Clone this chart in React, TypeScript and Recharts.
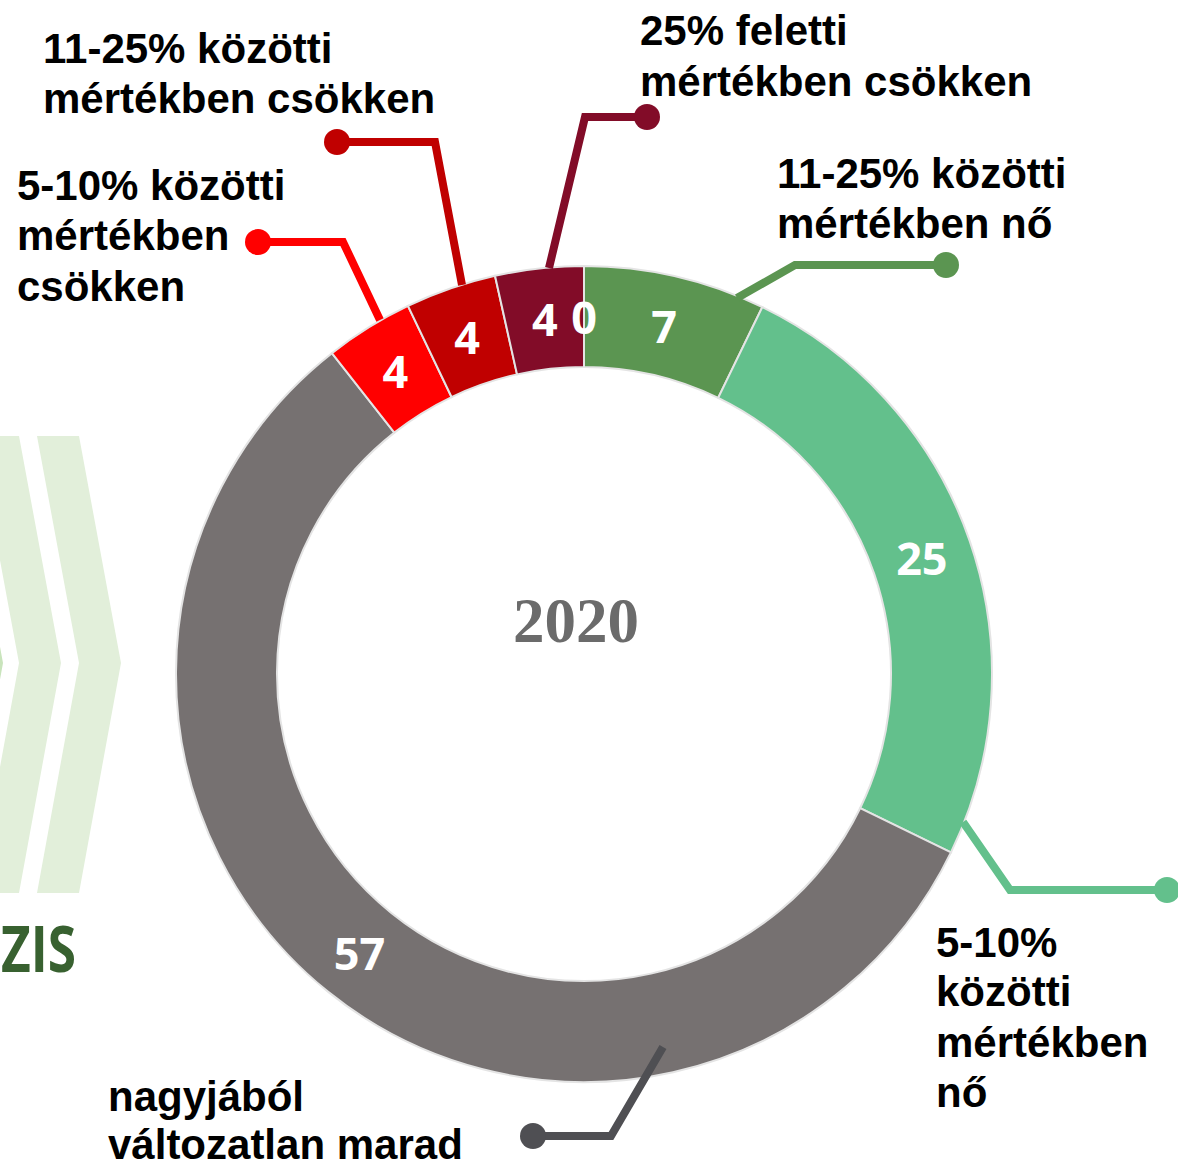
import React from "react";
import { PieChart, Pie, Cell } from "recharts";

// kategóriák az óramutató járásával, 12 órától
const CATEGORIES = [
  "25% feletti mértékben nő",
  "11-25% közötti mértékben nő",
  "5-10% közötti mértékben nő",
  "nagyjából változatlan marad",
  "5-10% közötti mértékben csökken",
  "11-25% közötti mértékben csökken",
  "25% feletti mértékben csökken",
];
const VALUES = [0, 7.2, 25.0, 57.2, 3.5, 3.6, 3.5];
const COLORS = ["#5B9551", "#5B9551", "#63C08C", "#767171", "#FF0000", "#C00000", "#820C28"];
const LINE_COLORS = ["#5B9551", "#5B9551", "#63C08C", "#4F4F53", "#FF0000", "#C00000", "#820C28"];
const LABEL_LINES: (string[] | null)[] = [
  null,
  ["11-25% közötti", "mértékben nő"],
  ["5-10%", "közötti", "mértékben", "nő"],
  ["nagyjából", "változatlan marad"],
  ["5-10% közötti", "mértékben", "csökken"],
  ["11-25% közötti", "mértékben csökken"],
  ["25% feletti", "mértékben csökken"],
];
const CENTER_TITLE = "2020";

const data = CATEGORIES.map((name, i) => ({ name, value: VALUES[i] }));

// vezetővonalak: pontok a középponthoz képest (start, könyök, pötty), szöveg x + alapvonalak
type Callout = { pts: [number, number][]; tx: number; ty: number[] };
const CALLOUTS: (Callout | null)[] = [
  null,
  { pts: [[153, -376], [211, -409], [362, -409]], tx: 193, ty: [-486, -436] },
  { pts: [[379, 148], [426, 216], [583, 216]], tx: 352, ty: [283, 332, 383, 433] },
  { pts: [[79, 373], [27, 462], [-51, 462]], tx: -476, ty: [437, 485] },
  { pts: [[-204, -354], [-241, -432], [-326, -432]], tx: -567, ty: [-474, -424, -373] },
  { pts: [[-122, -389], [-149, -532], [-247, -532]], tx: -541, ty: [-611, -561] },
  { pts: [[-35, -406], [1, -557], [63, -557]], tx: 56, ty: [-629, -578] },
];

const RAD = Math.PI / 180;

function renderLabel(props: any) {
  const { cx, cy, midAngle, innerRadius, outerRadius, index, value } = props;
  const r = (innerRadius + outerRadius) / 2;
  const x = cx + r * Math.cos(-midAngle * RAD);
  const y = cy + r * Math.sin(-midAngle * RAD);
  const c = CALLOUTS[index];
  const lines = LABEL_LINES[index];
  return (
    <g key={`lbl-${index}`}>
      {c && (
        <>
          <polyline
            points={c.pts.map(([dx, dy]) => `${cx + dx},${cy + dy}`).join(" ")}
            fill="none"
            stroke={LINE_COLORS[index]}
            strokeWidth={8}
          />
          <circle cx={cx + c.pts[2][0]} cy={cy + c.pts[2][1]} r={13} fill={LINE_COLORS[index]} />
        </>
      )}
      <text
        x={x}
        y={y}
        fill="#ffffff"
        textAnchor="middle"
        dominantBaseline="central"
        fontFamily="'Open Sans', 'Liberation Sans', sans-serif"
        fontWeight={700}
        fontSize={45}
      >
        {Math.round(value)}
      </text>
      {c && lines && (
        <text
          fill="#000000"
          fontFamily="'Liberation Sans', Arial, sans-serif"
          fontWeight={700}
          fontSize={42}
        >
          {lines.map((ln, k) => (
            <tspan key={k} x={cx + c.tx} y={cy + c.ty[k]}>
              {ln}
            </tspan>
          ))}
        </text>
      )}
    </g>
  );
}

function Backdrop() {
  const top = 436;
  const mid = 663;
  const bot = 893;
  const chevron = (left: number) => {
    const w = 42;
    const d = 42;
    return `${left},${top} ${left + w},${top} ${left + w + d},${mid} ${left + w},${bot} ${left},${bot} ${left + d},${mid}`;
  };
  return (
    <svg width={1178} height={1163} style={{ position: "absolute", left: 0, top: 0 }}>
      <polygon points={chevron(-81)} fill="#C9E4BC" />
      <polygon points={chevron(-23)} fill="#E2EFDA" />
      <polygon points={chevron(37)} fill="#E2EFDA" />
      <text
        x={1}
        y={972}
        textLength={75}
        lengthAdjust="spacingAndGlyphs"
        fill="#386130"
        fontFamily="'Open Sans', sans-serif"
        fontWeight={700}
        fontSize={65}
      >
        ZIS
      </text>
    </svg>
  );
}

export default function App() {
  return (
    <div style={{ position: "absolute", left: 0, top: 0, width: 1178, height: 1163, background: "#ffffff" }}>
      <Backdrop />
      <div style={{ position: "absolute", left: 0, top: 0 }}>
        <PieChart width={1178} height={1163} margin={{ top: 0, right: 0, bottom: 0, left: 0 }}>
          <Pie
            data={data}
            dataKey="value"
            nameKey="name"
            cx={584}
            cy={674}
            innerRadius={307}
            outerRadius={408}
            startAngle={90}
            endAngle={-270}
            stroke="#E4E4E4"
            strokeWidth={2}
            label={renderLabel}
            labelLine={false}
            isAnimationActive={false}
          >
            {data.map((d, i) => (
              <Cell key={d.name} fill={COLORS[i]} />
            ))}
          </Pie>
          <text
            x={576}
            y={642}
            textAnchor="middle"
            fill="#6B6B6B"
            fontFamily="'Liberation Serif', 'DejaVu Serif', serif"
            fontWeight={700}
            fontSize={63}
          >
            {CENTER_TITLE}
          </text>
        </PieChart>
      </div>
    </div>
  );
}
